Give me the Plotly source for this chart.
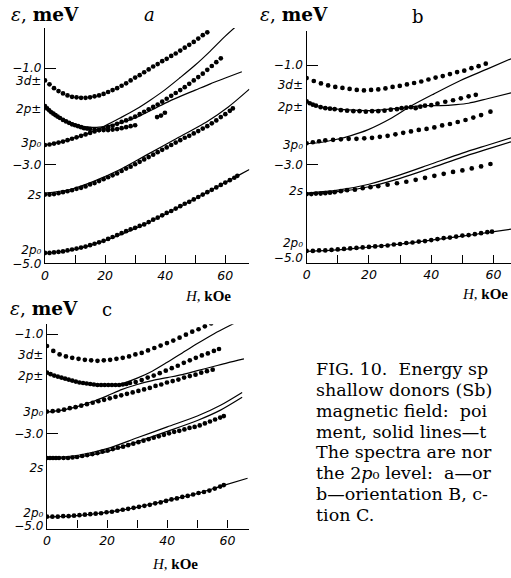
import plotly.graph_objects as go

# ------------------------------------------------------------------ data
# Panel a (orientation A)
A_3d_H = [0, 1.5, 3, 4.5, 6, 7.5, 9, 10.5, 12, 13.5, 15, 16.5, 18, 19.5, 21, 22.5, 24, 25.5, 27, 28.5,
          30, 31.5, 33, 34.5, 36, 37.5, 39, 40.5, 42, 43.5, 45, 46.5, 48, 49.5, 51, 52.5, 54]
A_3d_E = [-1.25, -1.33, -1.41, -1.47, -1.52, -1.56, -1.59, -1.60, -1.61, -1.61, -1.60, -1.58, -1.56, -1.53,
          -1.49, -1.45, -1.41, -1.36, -1.31, -1.25, -1.19, -1.14, -1.08, -1.02, -0.96, -0.91, -0.85, -0.80,
          -0.74, -0.69, -0.63, -0.57, -0.51, -0.45, -0.38, -0.31, -0.25]
A_2p_H = [0, 0.7, 1.4, 2.1, 2.8, 3.5, 4.2, 5, 6, 7, 8, 9, 10, 11, 12, 13, 14, 15, 16.5, 18, 19.5, 21,
          22.5, 24, 25.5, 27, 28.5, 30]
A_2p_E = [-1.78, -1.83, -1.87, -1.91, -1.94, -1.97, -2.00, -2.03, -2.07, -2.10, -2.13, -2.16, -2.18, -2.20,
          -2.22, -2.24, -2.25, -2.26, -2.27, -2.28, -2.28, -2.28, -2.27, -2.26, -2.24, -2.22, -2.20, -2.18]
A_3p_H = [0, 1.5, 3, 4.5, 6, 7.5, 9, 10.5, 12, 13.5, 15, 16.5, 18, 19.5, 21, 22.5, 24, 25.5, 27, 28.5,
          30, 31.5, 33, 34.5, 36, 37.5, 39, 40.5, 42, 43.5, 45, 46.5, 48, 49.5, 51, 52.5, 54, 55.5, 57, 58.5]
A_3p_E = [-2.59, -2.58, -2.56, -2.54, -2.52, -2.49, -2.46, -2.43, -2.40, -2.37, -2.34, -2.31, -2.28, -2.25,
          -2.22, -2.19, -2.15, -2.11, -2.08, -2.04, -2.00, -1.95, -1.90, -1.85, -1.80, -1.75, -1.69, -1.63,
          -1.57, -1.51, -1.45, -1.39, -1.32, -1.25, -1.18, -1.11, -1.03, -0.95, -0.87, -0.79]
A_x_H = [37.3, 38.6, 39.9]
A_x_E = [-2.01, -1.98, -1.92]
A_2s_H = [0, 1.5, 3, 4.5, 6, 7.5, 9, 10.5, 12, 13.5, 15, 16.5, 18, 19.5, 21, 22.5, 24, 25.5, 27, 28.5,
          30, 31.5, 33, 34.5, 36, 37.5, 39, 40.5, 42, 43.5, 45, 46.5, 48, 49.5, 51, 52.5, 54, 55.5, 57,
          58.5, 60, 61.5, 62.5]
A_2s_E = [-3.62, -3.62, -3.61, -3.59, -3.57, -3.55, -3.53, -3.50, -3.48, -3.45, -3.41, -3.38, -3.34, -3.30,
          -3.26, -3.22, -3.18, -3.13, -3.08, -3.04, -2.99, -2.94, -2.89, -2.84, -2.79, -2.74, -2.69, -2.64,
          -2.59, -2.54, -2.49, -2.44, -2.40, -2.35, -2.30, -2.25, -2.20, -2.14, -2.08, -2.01, -1.95, -1.88,
          -1.83]
A_2p0_H = [0, 1.5, 3, 4.5, 6, 7.5, 9, 10.5, 12, 13.5, 15, 16.5, 18, 19.5, 21, 22.5, 24, 25.5, 27, 28.5,
           30, 31.5, 33, 34.5, 36, 37.5, 39, 40.5, 42, 43.5, 45, 46.5, 48, 49.5, 51, 52.5, 54, 55.5, 57,
           58.5, 60, 61.5, 63, 64]
A_2p0_E = [-4.83, -4.83, -4.82, -4.81, -4.80, -4.78, -4.76, -4.74, -4.72, -4.70, -4.67, -4.64, -4.61, -4.58,
           -4.54, -4.50, -4.46, -4.42, -4.38, -4.34, -4.31, -4.27, -4.24, -4.19, -4.14, -4.10, -4.05, -4.00,
           -3.96, -3.91, -3.86, -3.81, -3.77, -3.72, -3.67, -3.62, -3.57, -3.52, -3.47, -3.42, -3.37, -3.32,
           -3.27, -3.23]
# theory lines, panel a
A_T3p_H = [0, 5, 10, 15, 20, 25, 30, 35, 40, 45, 50, 55, 60, 65.5]
A_T3p_E = [-2.59, -2.53, -2.44, -2.33, -2.19, -2.03, -1.86, -1.66, -1.44, -1.19, -0.93, -0.64, -0.33, -0.02]
A_T2p_H = [0, 3, 6, 9, 12, 15, 18, 21, 25, 30, 35, 40, 45, 50, 55, 60, 65.5]
A_T2p_E = [-1.78, -1.94, -2.05, -2.13, -2.19, -2.22, -2.22, -2.19, -2.13, -2.03, -1.88, -1.72, -1.58, -1.45,
           -1.32, -1.20, -1.07]
A_T2s_H = [0, 8, 16, 25, 34, 43, 54, 61, 68]
A_T2s_E = [-3.59, -3.52, -3.35, -3.10, -2.79, -2.48, -2.10, -1.80, -1.43]
A_T2p0_H = [0, 10, 21, 32, 43, 54, 65, 68]
A_T2p0_E = [-4.84, -4.76, -4.55, -4.27, -3.93, -3.57, -3.20, -3.10]

# Panel b (orientation B)
B_3d_H = [0, 2.3, 4.6, 6.9, 9.2, 11.5, 13.8, 16.1, 18.4, 20.7, 23, 25.3, 27.6, 29.9, 32.2, 34.5, 36.8,
          39.1, 41.4, 43.7, 46, 48.3, 50.6, 52.9, 55.2, 57.5]
B_3d_E = [-1.25, -1.31, -1.36, -1.40, -1.43, -1.45, -1.47, -1.49, -1.50, -1.49, -1.48, -1.46, -1.43, -1.41,
          -1.38, -1.35, -1.32, -1.28, -1.24, -1.21, -1.17, -1.13, -1.10, -1.05, -1.01, -0.96]
B_2p_H = [0, 1, 2, 3, 4.5, 6, 7.5, 9, 11, 13, 15, 17, 19, 21, 23, 25, 27, 29, 30.5, 32, 33.5, 35, 36.5,
          38, 40, 42, 44.5, 47, 49.5, 52, 54.3]
B_2p_E = [-1.72, -1.76, -1.79, -1.81, -1.84, -1.86, -1.87, -1.88, -1.90, -1.91, -1.92, -1.92, -1.93, -1.92,
          -1.92, -1.91, -1.89, -1.88, -1.86, -1.85, -1.84, -1.86, -1.83, -1.81, -1.80, -1.77, -1.73, -1.70,
          -1.66, -1.62, -1.59]
B_3p_H = [0, 2, 4, 6, 8.5, 11, 13.5, 16, 18.5, 21, 23.5, 26, 28.5, 31, 33.5, 36, 38.5, 41, 43.5, 46, 48.5,
          51, 53.5, 56, 59]
B_3p_E = [-2.57, -2.55, -2.53, -2.51, -2.50, -2.49, -2.48, -2.48, -2.47, -2.46, -2.44, -2.42, -2.39, -2.36,
          -2.33, -2.30, -2.28, -2.25, -2.21, -2.18, -2.14, -2.10, -2.05, -2.00, -1.93]
B_2s_H = [0, 1.5, 3, 4.5, 6, 7.5, 9, 11, 13, 15.5, 18, 20.5, 23, 26, 29, 32, 35, 38, 41, 44, 47, 50, 53,
          56, 59]
B_2s_E = [-3.60, -3.60, -3.59, -3.59, -3.58, -3.57, -3.56, -3.54, -3.52, -3.51, -3.48, -3.46, -3.44, -3.41,
          -3.38, -3.35, -3.31, -3.27, -3.23, -3.19, -3.15, -3.12, -3.08, -3.04, -2.99]
B_2p0_H = [0, 2, 4, 6, 8, 10, 12, 14, 16, 18, 20, 22, 24, 26, 28, 30, 32, 34, 36, 38, 40, 42, 44, 46, 48,
           50, 52, 54, 56, 58, 59.5]
B_2p0_E = [-4.75, -4.75, -4.74, -4.74, -4.73, -4.72, -4.71, -4.70, -4.69, -4.68, -4.67, -4.66, -4.65, -4.64,
           -4.62, -4.61, -4.59, -4.58, -4.56, -4.55, -4.53, -4.51, -4.49, -4.48, -4.46, -4.44, -4.43, -4.41,
           -4.39, -4.37, -4.36]
B_T3p_H = [0, 5, 9, 14, 19.6, 27, 33.4, 40.9, 49.4, 57.9, 65.6]
B_T3p_E = [-2.58, -2.55, -2.50, -2.42, -2.30, -2.07, -1.82, -1.57, -1.30, -1.07, -0.86]
B_T2p_H = [0, 3, 6, 10, 15, 20, 25, 30, 34, 38, 43, 48, 52, 58, 65.6]
B_T2p_E = [-1.72, -1.80, -1.85, -1.88, -1.90, -1.91, -1.89, -1.86, -1.83, -1.81, -1.81, -1.79, -1.76, -1.67,
           -1.55]
B_T2s_H = [0, 10, 20, 30, 40, 50, 58, 65.6]
B_T2sa_E = [-3.58, -3.52, -3.40, -3.21, -2.99, -2.77, -2.61, -2.46]
B_T2sb_E = [-3.60, -3.55, -3.45, -3.28, -3.07, -2.85, -2.69, -2.54]
B_T2p0_H = [0, 10, 20, 30, 40, 50, 59, 65.6]
B_T2p0_E = [-4.76, -4.73, -4.67, -4.61, -4.53, -4.45, -4.37, -4.31]

# Panel c (orientation C)
C_3d_H = [0, 2.1, 4.2, 6.3, 8.4, 10.5, 12.6, 14.7, 16.8, 18.9, 21, 23.1, 25.2, 27.3, 29.4, 31.5, 33.6,
          35.7, 37.8, 39.9, 42, 44.1, 46.2, 48.3, 50.4, 52.5, 54.6, 56.7]
C_3d_E = [-1.23, -1.33, -1.40, -1.44, -1.47, -1.49, -1.51, -1.52, -1.53, -1.52, -1.51, -1.49, -1.47, -1.44,
          -1.40, -1.37, -1.32, -1.27, -1.22, -1.17, -1.12, -1.06, -1.00, -0.94, -0.89, -0.83, -0.77, -0.72]
C_2p_H = [0, 1.2, 2.4, 3.6, 4.8, 6, 7.2, 8.4, 9.6, 10.8, 12, 13.2, 14.4, 15.6, 16.8, 18, 19.2, 20.4, 21.6,
          22.8, 24, 25.2, 26.4, 27.6, 29.5, 31.5, 33.5, 35.5, 37.5, 39.5, 41.5, 43.5, 45.5, 47.5, 49.5,
          51.5, 53.5, 55.5, 57.2]
C_2p_E = [-1.77, -1.80, -1.83, -1.85, -1.87, -1.89, -1.91, -1.93, -1.95, -1.97, -1.98, -1.99, -2.00, -2.01,
          -2.02, -2.02, -2.02, -2.02, -2.02, -2.02, -2.02, -2.01, -2.00, -1.98, -1.96, -1.92, -1.87, -1.83,
          -1.78, -1.73, -1.68, -1.63, -1.57, -1.52, -1.47, -1.42, -1.38, -1.33, -1.29]
C_3p_H = [0, 1.9, 3.8, 5.7, 7.6, 9.5, 11.4, 13.3, 15.2, 17.1, 19, 20.9, 22.8, 24.7, 26.6, 28.5, 30.4, 32.3,
          34.2, 36.1, 38, 39.9, 41.8, 43.7, 45.6, 47.5, 49.4, 51.3, 53.2, 55.1]
C_3p_E = [-2.56, -2.55, -2.54, -2.52, -2.49, -2.47, -2.44, -2.41, -2.38, -2.35, -2.32, -2.29, -2.26, -2.23,
          -2.20, -2.17, -2.14, -2.11, -2.08, -2.04, -2.01, -1.97, -1.94, -1.91, -1.87, -1.84, -1.81, -1.77,
          -1.74, -1.71]
C_2s_H = [0, 1, 2, 3, 4, 5.5, 7, 8.5, 10, 11.7, 13.4, 15.1, 16.8, 18.5, 20.2, 21.9, 23.6, 25.3, 27, 28.7,
          30.4, 32.1, 33.8, 35.5, 37.2, 38.9, 40.6, 42.3, 44, 45.7, 47.4, 49.1, 50.8, 52.5, 54.2, 55.9, 57.6,
          58.8]
C_2s_E = [-3.50, -3.50, -3.50, -3.50, -3.50, -3.50, -3.50, -3.49, -3.48, -3.46, -3.44, -3.42, -3.40, -3.37,
          -3.35, -3.32, -3.29, -3.27, -3.24, -3.21, -3.18, -3.15, -3.12, -3.09, -3.06, -3.03, -3.00, -2.97,
          -2.95, -2.92, -2.89, -2.87, -2.84, -2.80, -2.76, -2.72, -2.68, -2.65]
C_2p0_H = [0, 1.8, 3.6, 5.4, 7.2, 9, 10.8, 12.6, 14.4, 16.2, 18, 19.8, 21.6, 23.4, 25.2, 27, 28.8, 30.6,
           32.4, 34.2, 36, 37.8, 39.6, 41.4, 43.2, 45, 46.8, 48.6, 50.4, 52.2, 54, 55.8, 57.6, 58.8]
C_2p0_E = [-4.69, -4.69, -4.69, -4.68, -4.68, -4.67, -4.66, -4.65, -4.64, -4.63, -4.62, -4.60, -4.59, -4.57,
           -4.55, -4.53, -4.51, -4.49, -4.47, -4.45, -4.42, -4.40, -4.37, -4.34, -4.32, -4.29, -4.27, -4.24,
           -4.21, -4.19, -4.16, -4.12, -4.08, -4.05]
C_TU_H = [0, 4, 8, 12, 16, 20, 23, 26, 30, 35, 40, 45, 50, 55, 60, 64.4]
C_TU_E = [-1.77, -1.87, -1.94, -1.99, -2.02, -2.03, -2.02, -1.97, -1.88, -1.74, -1.56, -1.37, -1.18, -1.00,
          -0.84, -0.70]
C_TL_H = [0, 5, 10, 15, 20, 25, 30, 35, 40, 45, 50, 55, 60, 65.5]
C_TL_E = [-2.57, -2.53, -2.46, -2.36, -2.24, -2.11, -2.01, -1.93, -1.87, -1.81, -1.73, -1.65, -1.57, -1.49]
C_T2s_H = [0, 10, 20, 30, 40, 50, 57.7, 64.9]
C_T2sa_E = [-3.50, -3.45, -3.31, -3.09, -2.87, -2.65, -2.43, -2.17]
C_T2sb_E = [-3.52, -3.48, -3.37, -3.17, -2.96, -2.74, -2.53, -2.27]
C_T2p0_H = [0, 10, 20, 30, 40, 50, 58.5, 66.7]
C_T2p0_E = [-4.70, -4.67, -4.60, -4.50, -4.36, -4.22, -4.06, -3.91]

# axis labels
X_LABELED = [0, 20, 40, 60]
X_TEXT = ["0", "20", "40", "60"]
X_MINOR = [10, 30, 50]
Y_TEXT = ["\u22121.0", "3d\u00b1", "2p\u00b1", "3p\u2080", "\u22123.0", "2s", "2p\u2080", "\u22125.0"]
A_YPOS = [-0.99, -1.26, -1.84, -2.55, -3.0, -3.62, -4.77, -5.05]
B_YPOS = [-0.99, -1.39, -1.84, -2.60, -3.0, -3.53, -4.59, -4.88]
C_YPOS = [-0.98, -1.41, -1.83, -2.57, -3.0, -3.69, -4.61, -4.87]
PANEL_LETTERS = ["a", "b", "c"]
# caption as it is visible (the reference crops it at the right edge)
CAPTION = [
    "FIG. 10.  Energy sp",
    "shallow donors (Sb)",
    "magnetic field:  poi",
    "ment, solid lines\u2014t",
    "The spectra are nor",
    "the 2<i>p</i>\u2080 level:  a\u2014or",
    "b\u2014orientation B, c-",
    "tion C.",
]

# ------------------------------------------------------------------ layout geometry (pixels)
W, HT = 511, 578
fig = go.Figure()


def px_x(p):
    return p / W


def px_y(p):
    return 1 - p / HT


def dots(x, y, n):
    fig.add_trace(go.Scatter(x=x, y=y, mode="markers", xaxis="x" + n, yaxis="y" + n,
                             marker=dict(size=4.7, color="black", line=dict(width=0)),
                             hoverinfo="skip", showlegend=False))


def curve(x, y, n):
    fig.add_trace(go.Scatter(x=x, y=y, mode="lines", xaxis="x" + n, yaxis="y" + n,
                             line=dict(color="black", width=1.2, shape="spline", smoothing=0.8),
                             hoverinfo="skip", showlegend=False))


# panel a
for hx, ey in [(A_T3p_H, A_T3p_E), (A_T2p_H, A_T2p_E), (A_T2s_H, A_T2s_E), (A_T2p0_H, A_T2p0_E)]:
    curve(hx, ey, "")
for hx, ey in [(A_3d_H, A_3d_E), (A_2p_H, A_2p_E), (A_3p_H, A_3p_E), (A_x_H, A_x_E),
               (A_2s_H, A_2s_E), (A_2p0_H, A_2p0_E)]:
    dots(hx, ey, "")
# panel b
for hx, ey in [(B_T3p_H, B_T3p_E), (B_T2p_H, B_T2p_E), (B_T2s_H, B_T2sa_E), (B_T2s_H, B_T2sb_E),
               (B_T2p0_H, B_T2p0_E)]:
    curve(hx, ey, "2")
for hx, ey in [(B_3d_H, B_3d_E), (B_2p_H, B_2p_E), (B_3p_H, B_3p_E), (B_2s_H, B_2s_E),
               (B_2p0_H, B_2p0_E)]:
    dots(hx, ey, "2")
# panel c
for hx, ey in [(C_TU_H, C_TU_E), (C_TL_H, C_TL_E), (C_T2s_H, C_T2sa_E), (C_T2s_H, C_T2sb_E),
               (C_T2p0_H, C_T2p0_E)]:
    curve(hx, ey, "3")
for hx, ey in [(C_3d_H, C_3d_E), (C_2p_H, C_2p_E), (C_3p_H, C_3p_E), (C_2s_H, C_2s_E),
               (C_2p0_H, C_2p0_E)]:
    dots(hx, ey, "3")

TICKFONT = dict(family="DejaVu Sans", size=12, color="black", style="italic")


def xax(x0, x1, hmax, anchor):
    return dict(domain=[px_x(x0), px_x(x1)], range=[0, hmax], anchor=anchor,
                showline=True, linecolor="black", linewidth=1.4, showgrid=False, zeroline=False,
                tickmode="array", tickvals=X_LABELED, ticktext=X_TEXT, ticks="inside", ticklen=8,
                tickwidth=1, tickcolor="black", tickfont=dict(TICKFONT, size=12.5), fixedrange=True,
                minor=dict(tickmode="array", tickvals=X_MINOR, ticks="inside", ticklen=8,
                           tickwidth=1, tickcolor="black", showgrid=False))


def yax(ytop, ybot, rng, pos, anchor):
    return dict(domain=[px_y(ybot), px_y(ytop)], range=rng, anchor=anchor,
                showline=True, linecolor="black", linewidth=1.4, showgrid=False, zeroline=False,
                tickmode="array", tickvals=pos, ticktext=Y_TEXT, ticks="", tickfont=TICKFONT,
                minor=dict(tickmode="array", tickvals=[-1.0, -3.0], ticks="inside", ticklen=11,
                           tickwidth=1, tickcolor="black", showgrid=False),
                fixedrange=True)


fig.update_layout(
    width=W, height=HT, margin=dict(l=0, r=0, t=0, b=0),
    paper_bgcolor="white", plot_bgcolor="rgba(0,0,0,0)", showlegend=False,
    xaxis=xax(41.3, 247.3, 68, "y"),
    yaxis=yax(28.3, 266.7, [-5.05, -0.16], A_YPOS, "x"),
    xaxis2=xax(305, 511, 65.6, "y2"),
    yaxis2=yax(31, 266, [-4.99, -0.29], B_YPOS, "x2"),
    xaxis3=xax(43.3, 246.7, 67.1, "y3"),
    yaxis3=yax(328.3, 535, [-4.93, -0.79], C_YPOS, "x3"),
)

ann = []
SERIF = "DejaVu Serif"
# y-axis titles
for (x, y) in [(5, 15), (256, 15), (4, 312)]:
    ann.append(dict(text="<i>\u03b5</i>, <b>meV</b>", x=px_x(x), y=px_y(y), xref="paper", yref="paper",
                    xanchor="left", yanchor="middle", showarrow=False,
                    font=dict(family=SERIF, size=18.5, color="black")))
# panel letters
for letter, (x, y), st in zip(PANEL_LETTERS, [(147, 15), (417, 17), (104, 313)],
                              ["italic", "normal", "normal"]):
    ann.append(dict(text=letter, x=px_x(x), y=px_y(y), xref="paper", yref="paper",
                    xanchor="center", yanchor="middle", showarrow=False,
                    font=dict(family=SERIF, size=18, color="black", style=st)))
# x-axis titles
for (x, y) in [(206, 300), (485, 298), (172, 571)]:
    ann.append(dict(text="<i>H</i>, <b>kOe</b>", x=px_x(x), y=px_y(y), xref="paper", yref="paper",
                    xanchor="center", yanchor="middle", showarrow=False,
                    font=dict(family="Liberation Serif", size=15, color="black")))
# caption
for i, line in enumerate(CAPTION):
    ann.append(dict(text=line, x=px_x(312), y=px_y(373.5 + 21.1 * i), xref="paper", yref="paper",
                    xanchor="left", yanchor="middle", showarrow=False,
                    font=dict(family=SERIF, size=17.5, color="black")))
fig.update_layout(annotations=ann)

fig.write_html("out.html", config=dict(displayModeBar=False))
